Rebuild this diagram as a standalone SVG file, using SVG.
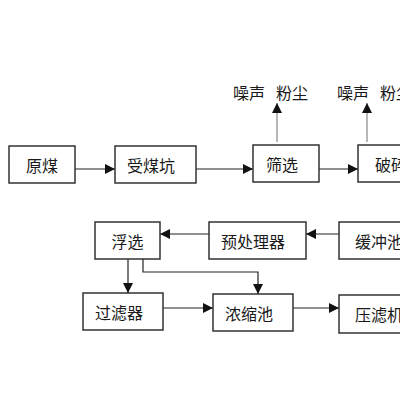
<svg xmlns="http://www.w3.org/2000/svg" width="400" height="400" viewBox="0 0 400 400">
<defs>
<marker id="ah" viewBox="0 0 10 10" refX="10" refY="5" markerWidth="10" markerHeight="10" markerUnits="userSpaceOnUse" orient="auto">
<path d="M0,0 L10,5 L0,10 z" fill="#111"/>
</marker>
</defs>
<style>
.box{fill:#fff;stroke:#333;stroke-width:1.5}
.t{font-family:"Noto Sans CJK SC","Noto Sans",sans-serif;font-size:16px;fill:#1a1a1a;text-anchor:middle;dominant-baseline:central}
.c{fill:none;stroke:#222;stroke-width:1.2}
.g{fill:none;stroke:#888;stroke-width:1.2}
</style>
<rect width="400" height="400" fill="#fff"/>
<g id="connectors">
<line class="c" x1="75" y1="169" x2="115" y2="169" marker-end="url(#ah)"/>
<line class="c" x1="196" y1="169" x2="253" y2="169" marker-end="url(#ah)"/>
<line class="c" x1="319" y1="169" x2="358" y2="169" marker-end="url(#ah)"/>
<line class="g" x1="277" y1="142" x2="277" y2="103" marker-end="url(#ah)"/>
<line class="g" x1="367" y1="142" x2="367" y2="103" marker-end="url(#ah)"/>
<line class="c" x1="339" y1="234" x2="306" y2="234" marker-end="url(#ah)"/>
<line class="c" x1="209" y1="234" x2="160" y2="234" marker-end="url(#ah)"/>
<line class="c" x1="128" y1="259" x2="128" y2="293" marker-end="url(#ah)"/>
<polyline class="c" points="143,259 143,272 258,272 258,294" marker-end="url(#ah)"/>
<line class="c" x1="163" y1="308" x2="213" y2="308" marker-end="url(#ah)"/>
<line class="c" x1="293" y1="308" x2="339" y2="308" marker-end="url(#ah)"/>
</g>
<g id="noise1"><text class="t" x="249" y="92">噪声</text><text class="t" x="292" y="92">粉尘</text></g>
<g id="noise2"><text class="t" x="353" y="92">噪声</text><text class="t" x="396" y="92">粉尘</text></g>
<g id="yuanmei"><rect class="box" x="9" y="146" width="66" height="37"/><text class="t" x="42" y="164.5">原煤</text></g>
<g id="shoumeikeng"><rect class="box" x="115" y="146" width="81" height="37"/><text class="t" x="151" y="164.5">受煤坑</text></g>
<g id="shaixuan"><rect class="box" x="253" y="145" width="66" height="37"/><text class="t" x="282" y="163.5">筛选</text></g>
<g id="posui"><rect class="box" x="358" y="145" width="66" height="37"/><text class="t" x="391" y="163.5">破碎</text></g>
<g id="fuxuan"><rect class="box" x="95" y="222" width="65" height="37"/><text class="t" x="127.5" y="240.5">浮选</text></g>
<g id="yuchuliqi"><rect class="box" x="209" y="222" width="97" height="37"/><text class="t" x="253" y="240.5">预处理器</text></g>
<g id="huanchongchi"><rect class="box" x="339" y="222" width="80" height="37"/><text class="t" x="379" y="240.5">缓冲池</text></g>
<g id="guolvqi"><rect class="box" x="83" y="293" width="80" height="37"/><text class="t" x="119" y="311.5">过滤器</text></g>
<g id="nongsuochi"><rect class="box" x="213" y="294" width="80" height="37"/><text class="t" x="249" y="312.5">浓缩池</text></g>
<g id="lvyaji"><rect class="box" x="339" y="295" width="80" height="38"/><text class="t" x="379" y="314">压滤机</text></g>
</svg>
